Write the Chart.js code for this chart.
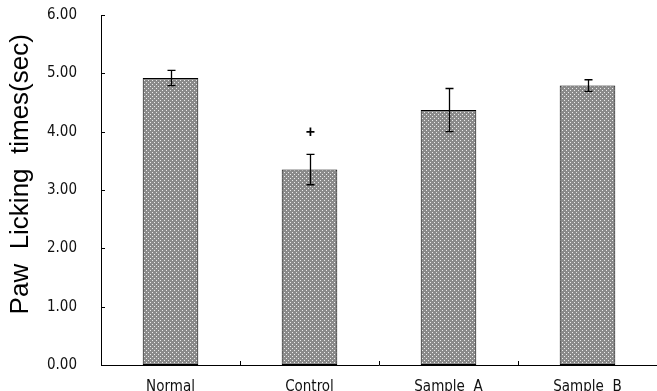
<!DOCTYPE html>
<html lang="en">
  <head>
    <meta charset="UTF-8" />
    <title>Paw Licking times</title>
    <script src="https://cdn.jsdelivr.net/npm/chart.js@4.4.0/dist/chart.umd.min.js"></script>
    <style>
      html,
      body {
        margin: 0;
        padding: 0;
        background: #ffffff;
      }
      .chart-wrapper {
        position: relative;
        width: 657px;
        height: 391px;
      }
    </style>
  </head>
  <body>
    <div class="chart-wrapper">
      <canvas id="pawChart"></canvas>
    </div>

    <script>
      // data
      const groups = ["Normal", "Control", "Sample  A", "Sample  B"];
      const means = [4.92, 3.35, 4.37, 4.79];
      const errors = [0.13, 0.26, 0.37, 0.1];
      const marks = ["", "+", "", ""];
      const yTicks = [0, 1, 2, 3, 4, 5, 6];
      const yTitle = "Paw  Licking  times(sec)";

      const narrow = "'Liberation Sans Narrow', 'DejaVu Sans Condensed', sans-serif";

      // dotted gray fill like the original print
      function dotPattern() {
        const c = document.createElement("canvas");
        c.width = 4;
        c.height = 4;
        const g = c.getContext("2d");
        g.fillStyle = "#8a8a8a";
        g.fillRect(0, 0, 4, 4);
        g.fillStyle = "#ececec";
        g.fillRect(0, 0, 1, 1);
        g.fillRect(2, 2, 1, 1);
        return g.createPattern(c, "repeat");
      }

      // inward ticks, error bars, significance mark and axis title
      const extras = {
        id: "extras",
        afterDatasetsDraw(chart) {
          const ctx = chart.ctx;
          const x = chart.scales.x;
          const y = chart.scales.y;
          const area = chart.chartArea;
          ctx.save();
          ctx.strokeStyle = "#000";
          ctx.lineWidth = 1;

          // y ticks point into the plot
          yTicks.forEach((v) => {
            const py = Math.round(y.getPixelForValue(v)) + 0.5;
            ctx.beginPath();
            ctx.moveTo(area.left, py);
            ctx.lineTo(area.left + 4, py);
            ctx.stroke();
          });

          // x ticks between categories
          const half = (x.getPixelForValue(1) - x.getPixelForValue(0)) / 2;
          for (let i = 0; i < groups.length; i++) {
            const px = Math.round(x.getPixelForValue(i) + half) + 0.5;
            ctx.beginPath();
            ctx.moveTo(px, area.bottom);
            ctx.lineTo(px, area.bottom - 4);
            ctx.stroke();
          }

          // error bars
          means.forEach((m, i) => {
            const px = Math.round(x.getPixelForValue(i)) + 0.5;
            const top = y.getPixelForValue(m + errors[i]);
            const bot = y.getPixelForValue(m - errors[i]);
            ctx.lineWidth = 1.3;
            ctx.beginPath();
            ctx.moveTo(px, top);
            ctx.lineTo(px, bot);
            ctx.moveTo(px - 4, top);
            ctx.lineTo(px + 4, top);
            ctx.moveTo(px - 4, bot);
            ctx.lineTo(px + 4, bot);
            ctx.stroke();

            if (marks[i]) {
              ctx.fillStyle = "#000";
              ctx.font = "bold 16px 'Liberation Sans', sans-serif";
              ctx.textAlign = "center";
              ctx.textBaseline = "middle";
              ctx.fillText(marks[i], px, top - 22);
            }
          });

          // y title sits a bit above the plot centre in the original
          ctx.translate(21, y.getPixelForValue(3.27));
          ctx.rotate(-Math.PI / 2);
          ctx.fillStyle = "#000";
          ctx.font = "26px 'Liberation Sans', Arial, sans-serif";
          ctx.textAlign = "center";
          ctx.textBaseline = "middle";
          ctx.fillText(yTitle, 0, 0);
          ctx.restore();
        },
      };

      const ctx = document.getElementById("pawChart").getContext("2d");
      new Chart(ctx, {
        type: "bar",
        data: {
          labels: groups,
          datasets: [
            {
              data: means,
              backgroundColor: dotPattern(),
              borderColor: "#000",
              borderWidth: 1,
              borderSkipped: false,
              barPercentage: 0.8,
              categoryPercentage: 0.5,
            },
          ],
        },
        options: {
          responsive: true,
          maintainAspectRatio: false,
          animation: false,
          layout: { padding: { top: 15, right: 0, left: 0, bottom: 0 } },
          plugins: {
            legend: { display: false },
            tooltip: { enabled: false },
          },
          scales: {
            x: {
              grid: { display: false },
              border: { display: true, color: "#000", width: 1 },
              ticks: {
                color: "#111",
                padding: 5,
                font: { family: narrow, size: 15 },
              },
              afterFit(scale) {
                scale.height = 26;
                scale.paddingLeft = 0;
                scale.paddingRight = 0;
              },
            },
            y: {
              min: 0,
              max: 6,
              grid: { display: false },
              border: { display: true, color: "#000", width: 1 },
              afterBuildTicks(scale) {
                scale.ticks = yTicks.map((v) => ({ value: v }));
              },
              ticks: {
                color: "#111",
                padding: 16,
                font: { family: narrow, size: 15 },
                callback: (v) => Number(v).toFixed(2),
              },
              afterFit(scale) {
                scale.width = 101;
                scale.paddingTop = 0;
                scale.paddingBottom = 0;
              },
            },
          },
        },
        plugins: [extras],
      });
    </script>
  </body>
</html>
